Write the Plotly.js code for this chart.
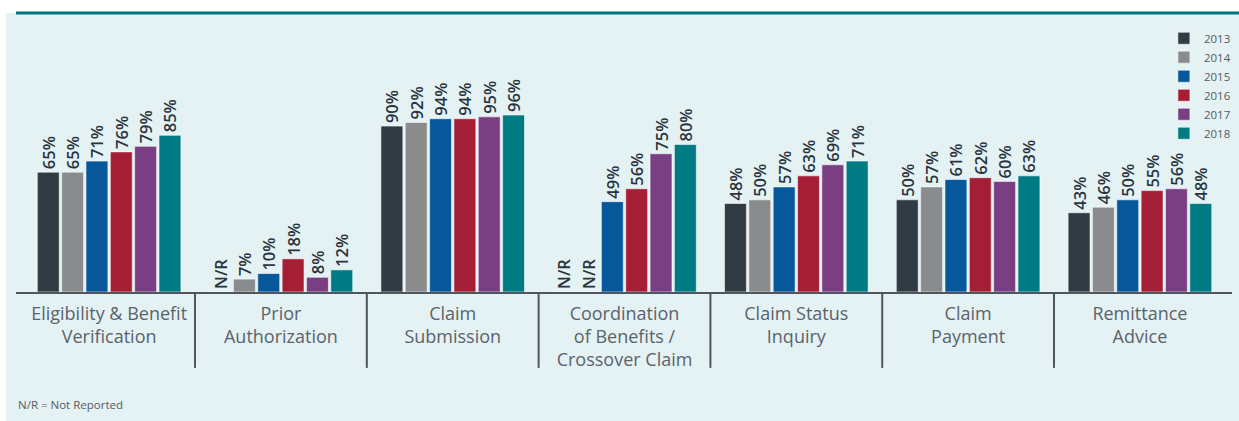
<!DOCTYPE html>
<html>
<head>
<meta charset="utf-8">
<script src="https://cdn.plot.ly/plotly-3.0.1.min.js"></script>
<style>html,body{margin:0;padding:0;background:#fff;}#chart{width:1239px;height:421px;}</style>
</head>
<body>
<div id="chart"></div>
<script>
var categories = [
  "Eligibility & Benefit<br>Verification",
  "Prior<br>Authorization",
  "Claim<br>Submission",
  "Coordination<br>of Benefits /<br>Crossover Claim",
  "Claim Status<br>Inquiry",
  "Claim<br>Payment",
  "Remittance<br>Advice"
];
var years = ["2013", "2014", "2015", "2016", "2017", "2018"];
var colors = ["#313b44", "#8a8b8c", "#06589a", "#a41f35", "#7a3e82", "#007b83"];
// null = N/R (not reported)
var v2013 = [65, null, 90, null, 48, 50, 43];
var v2014 = [65, 7, 92, null, 50, 57, 46];
var v2015 = [71, 10, 94, 49, 57, 61, 50];
var v2016 = [76, 18, 94, 56, 63, 62, 55];
var v2017 = [79, 8, 95, 75, 69, 60, 56];
var v2018 = [85, 12, 96, 80, 71, 63, 48];
var series = [v2013, v2014, v2015, v2016, v2017, v2018];
var footnote = "N/R = Not Reported";

var traces = series.map(function (vals, i) {
  return {
    type: "bar",
    name: years[i],
    x: categories,
    y: vals.map(function (v) { return v === null ? 0 : v; }),
    text: vals.map(function (v) { return v === null ? "N/R" : v + "%"; }),
    textposition: "outside",
    textangle: -90,
    constraintext: "none",
    cliponaxis: false,
    textfont: { family: "Open Sans, sans-serif", size: 16.5, color: "#2a343e", weight: 600 },
    marker: { color: colors[i], line: { color: "rgba(255,255,255,0.55)", width: 1 } },
    hoverinfo: "none"
  };
});

var shapes = [
  { type: "rect", xref: "paper", yref: "paper", x0: -0.0083, x1: 1.006, y0: -0.47, y1: 1.0036,
    fillcolor: "#e4f2f4", line: { width: 0 }, layer: "below" },
  { type: "line", xref: "paper", yref: "paper", x0: 0, x1: 1.006, y0: 1.0036, y1: 1.0036,
    line: { color: "#007580", width: 3 }, layer: "above" }
];
for (var k = 0; k < categories.length - 1; k++) {
  shapes.push({ type: "line", xref: "x", yref: "paper", x0: k + 0.5, x1: k + 0.5, y0: 0, y1: -0.273,
    line: { color: "#50565d", width: 2 } });
}

var layout = {
  width: 1239, height: 421,
  margin: { l: 16, r: 7, t: 14, b: 129, autoexpand: false },
  paper_bgcolor: "#ffffff",
  plot_bgcolor: "rgba(0,0,0,0)",
  barmode: "group",
  bargap: 0.15,
  bargroupgap: 0.1,
  showlegend: true,
  legend: {
    x: 0.944, y: 0.965, xanchor: "left", yanchor: "top",
    font: { family: "Open Sans, sans-serif", size: 11.5, color: "#555b62" },
    bgcolor: "rgba(0,0,0,0)", tracegroupgap: 0, itemwidth: 30
  },
  xaxis: {
    type: "category",
    range: [-0.542, 6.536],
    showline: true, linecolor: "#50565d", linewidth: 2,
    ticks: "", showgrid: false, zeroline: false,
    ticklabelstandoff: 4,
    tickfont: { family: "Open Sans, sans-serif", size: 18, color: "#5a636c" }
  },
  yaxis: {
    range: [0, 150.8], visible: false, showgrid: false, zeroline: false
  },
  shapes: shapes,
  annotations: [
    { xref: "paper", yref: "paper", x: 0, y: -0.403, xanchor: "left", yanchor: "middle",
      text: footnote, showarrow: false,
      font: { family: "Open Sans, sans-serif", size: 11.5, color: "#555b62" } }
  ]
};

Plotly.newPlot("chart", traces, layout, { displayModeBar: false, staticPlot: true });
</script>
</body>
</html>
